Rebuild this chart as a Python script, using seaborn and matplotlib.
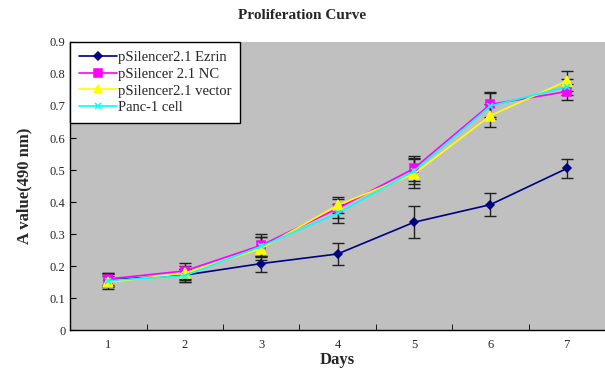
import numpy as np
import pandas as pd
import matplotlib
matplotlib.use("Agg")
import matplotlib.pyplot as plt
import seaborn as sns

days = [1, 2, 3, 4, 5, 6, 7]
groups = ["pSilencer2.1 Ezrin", "pSilencer 2.1 NC", "pSilencer2.1 vector", "Panc-1 cell"]
ezrin = [0.157, 0.172, 0.208, 0.238, 0.337, 0.392, 0.505]
nc = [0.160, 0.185, 0.265, 0.380, 0.505, 0.705, 0.745]
vector = [0.150, 0.178, 0.255, 0.390, 0.488, 0.670, 0.778]
panc = [0.155, 0.170, 0.262, 0.365, 0.497, 0.700, 0.760]
ezrin_err = [0.020, 0.020, 0.025, 0.035, 0.050, 0.035, 0.030]
nc_err = [0.020, 0.025, 0.035, 0.030, 0.040, 0.040, 0.025]
vector_err = [0.020, 0.022, 0.035, 0.025, 0.045, 0.035, 0.030]
panc_err = [0.020, 0.020, 0.030, 0.030, 0.040, 0.040, 0.025]

df = pd.DataFrame({
    "day": days * 4,
    "value": ezrin + nc + vector + panc,
    "err": ezrin_err + nc_err + vector_err + panc_err,
    "group": sum([[g] * 7 for g in groups], []),
})

colors = ["#000080", "#FF00FF", "#FFFF00", "#00FFFF"]
markers = ["D", "s", "^", "x"]
msizes = [4.5, 6, 6.5, 4.5]

sns.set_style("white")
plt.rcParams["font.family"] = ["Liberation Serif", "DejaVu Serif"]

fig = plt.figure(figsize=(6.05, 3.71), dpi=100)
ax = fig.add_axes([0.116, 0.11, 0.884, 0.777])
ax.set_facecolor("#C0C0C0")

for g in groups:
    sub = df[df.group == g]
    ax.errorbar(sub.day, sub.value, yerr=sub.err, fmt="none", ecolor="#202020",
                elinewidth=1, capsize=4, capthick=1, zorder=2)

for g, c, m, ms in zip(groups, colors, markers, msizes):
    sns.lineplot(data=df[df.group == g], x="day", y="value", label=g, color=c,
                 marker=m, markersize=ms, markeredgecolor=c, markeredgewidth=1.1,
                 linewidth=1.2, ax=ax, zorder=3)

ax.set_xlim(0.5, 7.5)
ax.set_ylim(0, 0.9)
ax.set_yticks(np.arange(0, 0.91, 0.1))
ax.set_yticklabels(["0", "0.1", "0.2", "0.3", "0.4", "0.5", "0.6", "0.7", "0.8", "0.9"], fontsize=9)
ax.set_xticks(days)
ax.set_xticklabels([str(d) for d in days], fontsize=9)
ax.set_xticks(np.arange(1.5, 7.5, 1), minor=True)
ax.tick_params(axis="x", which="major", length=0, pad=6)
ax.tick_params(axis="x", which="minor", length=4, direction="in", color="black", bottom=True)
ax.tick_params(axis="y", length=4, direction="in", color="black", left=True)
for s in ["left", "bottom"]:
    ax.spines[s].set_color("black")
    ax.spines[s].set_linewidth(1)
for s in ["top", "right"]:
    ax.spines[s].set_visible(False)

ax.set_xlabel("Days", fontsize=12, fontweight="bold", labelpad=1)
ax.set_ylabel("A value(490 nm)", fontsize=12, fontweight="bold", labelpad=12)
fig.suptitle("Proliferation Curve", fontsize=11, fontweight="bold", y=0.975)

leg = ax.legend(loc="upper left", bbox_to_anchor=(0.0, 1.0), frameon=True, fontsize=10.5,
                fancybox=False, borderaxespad=0, handlelength=2.6, labelspacing=0.25,
                borderpad=0.6, handletextpad=0.05, markerscale=0.85)
leg.get_frame().set_facecolor("white")
leg.get_frame().set_edgecolor("black")
leg.get_frame().set_alpha(1)

fig.savefig("out.png", dpi=100)
